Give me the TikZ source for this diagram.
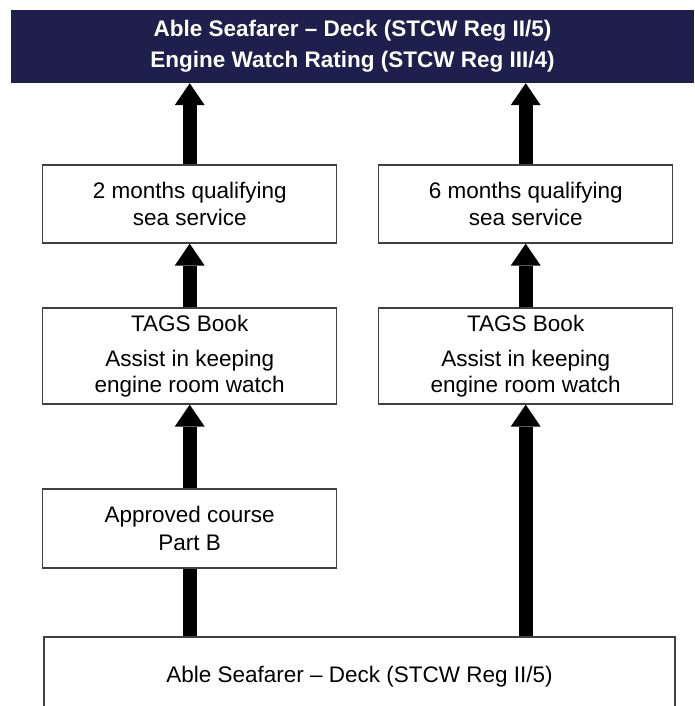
\documentclass[tikz,border=0pt]{standalone}
\usepackage{fontspec}
\setmainfont{Liberation Sans}
\usetikzlibrary{arrows.meta}
\definecolor{navy}{RGB}{31,31,77}
\definecolor{boxline}{RGB}{64,64,64}
\begin{document}
\begin{tikzpicture}[x=1pt,y=-1pt,
  box/.style={draw=boxline, line width=1.3pt, fill=white, align=center, inner sep=0pt,
    font=\fontsize{22.5}{26.5}\selectfont},
  colbox/.style={box, minimum width=294pt},
  banner/.style={fill=navy, text=white, align=center, inner sep=0pt,
    font=\bfseries\fontsize{22.5}{31}\selectfont},
  fat/.style={line width=14pt, -{Triangle[width=30pt,length=22pt,line width=0pt]}},
  shaft/.style={line width=14pt}]
\useasboundingbox (0,0) rectangle (694,706);
\clip (0,0) rectangle (694,706);

\node[banner, minimum width=683pt, minimum height=73pt] (top) at (352.5,46.5)
  {Able Seafarer -- Deck (STCW Reg II/5)\\Engine Watch Rating (STCW Reg III/4)};

\node[colbox, minimum height=78pt] (sL) at (189.7,204) {2 months qualifying\\sea service};
\node[colbox, minimum height=78pt] (sR) at (525.7,204) {6 months qualifying\\sea service};

\node[colbox, minimum height=96pt, font=\fontsize{22.5}{25.5}\selectfont] (tL) at (189.7,356)
  {TAGS Book\\[10pt]Assist in keeping\\engine room watch};
\node[colbox, minimum height=96pt, font=\fontsize{22.5}{25.5}\selectfont] (tR) at (525.7,356)
  {TAGS Book\\[10pt]Assist in keeping\\engine room watch};

\node[colbox, minimum height=79pt, font=\fontsize{22.5}{27.3}\selectfont] (ac) at (189.7,528.5)
  {Approved course\\Part B};

\node[box, minimum width=631pt, minimum height=80pt] (bot) at (359.5,677)
  {Able Seafarer -- Deck (STCW Reg II/5)};

\draw[fat] (sL.north) -- (sL.north |- top.south);
\draw[fat] (sR.north) -- (sR.north |- top.south);
\draw[fat] (tL.north) -- (sL.south);
\draw[fat] (tR.north) -- (sR.south);
\draw[fat] (ac.north) -- (tL.south);
\draw[fat] (tR.south |- bot.north) -- (tR.south);
\draw[shaft] (ac.south |- bot.north) -- (ac.south);
\end{tikzpicture}
\end{document}
